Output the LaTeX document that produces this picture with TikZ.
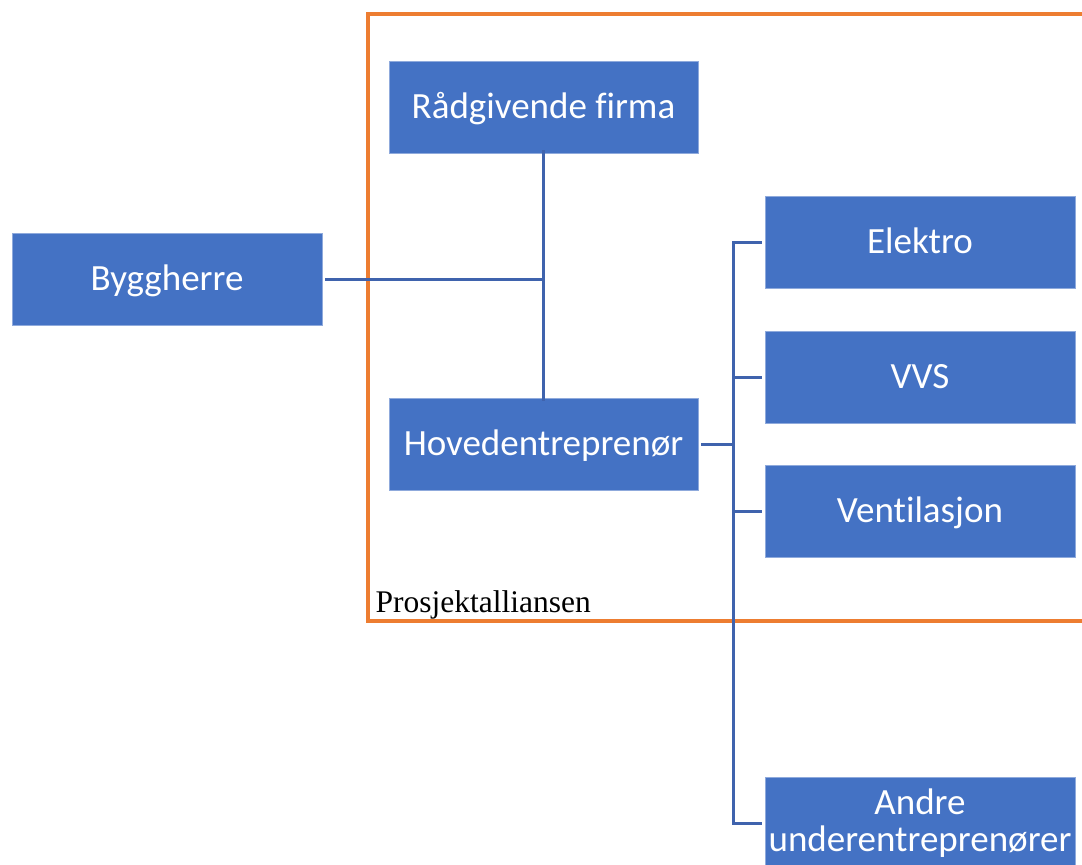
\documentclass[tikz,border=0pt]{standalone}
\usepackage{fontspec}
\setmainfont{Liberation Serif}
\newfontfamily\boxfont[Ligatures=NoCommon]{Carlito}
\definecolor{boxblue}{HTML}{4472C4}
\definecolor{boxedge}{HTML}{8FAADC}
\definecolor{linkblue}{HTML}{3F63AD}
\definecolor{allianceorange}{HTML}{ED7D31}
\begin{document}
\begin{tikzpicture}[x=1pt,y=-1pt,
  orgbox/.style={fill=boxblue, draw=boxedge, line width=0.8pt, minimum width=310pt,
    minimum height=92pt, inner sep=0pt, text=white, align=center,
    font=\boxfont\fontsize{37}{37}\selectfont},
  oneline/.style={orgbox, text height=22pt, text depth=0pt},
  link/.style={draw=linkblue, line width=3pt},
  frame/.style={draw=allianceorange, line width=4pt}]
  \useasboundingbox (0,0) rectangle (1082,865);
  % alliance frame, open past the right edge
  \draw[frame] (1100,14) -- (368,14) -- (368,621) -- (1100,621);
  \node[anchor=base west, font=\fontsize{31.5}{34}\selectfont] (lbl) at (372,612) {Prosjektalliansen};
  % organisation boxes
  \node[oneline] (bygg) at (167,279) {Byggherre};
  \node[oneline, minimum width=309pt] (rad) at (543.5,107) {Rådgivende firma};
  \node[oneline, minimum width=309pt] (hov) at (543.5,444) {Hovedentreprenør};
  \node[oneline] (el) at (920,242) {Elektro};
  \node[oneline] (vvs) at (920,377) {VVS};
  \node[oneline] (vent) at (920,511.5) {Ventilasjon};
  \node[orgbox] (andre) at (920,823) {Andre\\underentreprenører};
  % connectors
  \coordinate (j1) at (544,279);
  \coordinate (j2) at (733,444);
  \draw[link] ([xshift=3pt]bygg.east) -- (j1);
  \draw[link] ([yshift=3pt]rad.south) -- ([yshift=-3pt]hov.north);
  \draw[link] ([xshift=3pt]hov.east) -- (j2);
  \draw[link] ([xshift=-3pt]el.west) -| (j2) |- ([xshift=-3pt]andre.west);
  \draw[link] ([xshift=-3pt]vvs.west) -- (vvs.west -| j2);
  \draw[link] ([xshift=-3pt]vent.west) -- (vent.west -| j2);
\end{tikzpicture}
\end{document}
